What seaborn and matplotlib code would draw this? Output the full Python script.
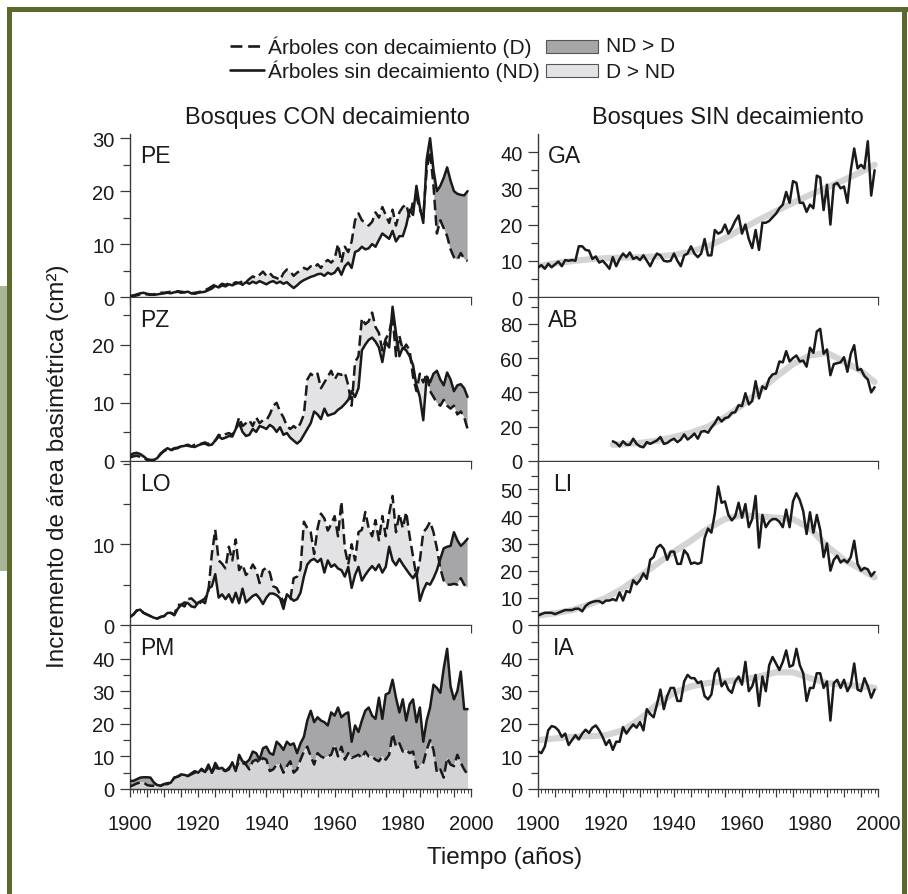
import numpy as np
import seaborn as sns
import matplotlib as mpl
mpl.use('Agg')
import matplotlib.pyplot as plt
from matplotlib.patches import Rectangle
from matplotlib.lines import Line2D
from matplotlib.ticker import FixedLocator, FuncFormatter

sns.set_style('ticks')
plt.rcParams['font.family'] = ['Liberation Sans', 'DejaVu Sans']

# ---- datos ----
YEARS = np.arange(1900, 2000)
AB_YEARS = np.arange(1922, 2000)
SMOOTH_YEARS = [1900, 1905, 1910, 1915, 1920, 1925, 1930, 1935, 1940, 1945, 1950,
                1955, 1960, 1965, 1970, 1975, 1980, 1985, 1990, 1995, 1999]
AB_SMOOTH_YEARS = [1922, 1925, 1930, 1935, 1940, 1945, 1950, 1955, 1960, 1965,
                   1970, 1975, 1980, 1985, 1990, 1995, 1999]

# Bosques CON decaimiento: D = arboles con decaimiento, ND = sin decaimiento
PE_D = [0.1, 0.2, 0.3, 0.5, 0.6, 0.5, 0.4, 0.5, 0.7, 0.8,
        0.8, 0.9, 1.0, 0.8, 1.1, 1.0, 0.9, 0.8, 0.7, 0.8,
        0.9, 1.1, 1.3, 1.6, 2.0, 2.4, 2.0, 2.5, 2.3, 2.6,
        2.4, 2.8, 2.6, 3.0, 2.8, 3.4, 3.9, 3.6, 4.2, 4.8,
        4.0, 4.5, 3.8, 3.6, 3.2, 4.5, 5.2, 4.8, 4.0, 4.6,
        5.0, 5.5, 5.2, 5.8, 5.5, 6.2, 5.5, 6.5, 7.0, 6.5,
        7.2, 10.0, 6.5, 9.5, 8.5, 10.5, 14.5, 15.8, 14.5, 14.0,
        13.5, 14.2, 16.0, 15.0, 17.0, 15.5, 14.0, 16.5, 13.5, 16.0,
        17.0, 17.5, 15.0, 18.0, 19.0, 16.5, 15.0, 24.0, 27.5, 21.0,
        12.0, 14.5, 13.0, 11.5, 9.0, 7.5, 7.0, 8.3, 7.2, 6.8]
PE_ND = [0.2, 0.3, 0.5, 0.7, 0.8, 0.6, 0.5, 0.4, 0.5, 0.6,
         0.7, 0.8, 0.7, 0.9, 1.0, 0.8, 0.9, 1.0, 0.7, 0.6,
         0.8, 0.9, 1.0, 1.3, 1.6, 2.1, 1.8, 2.2, 2.0, 2.4,
         2.2, 2.5, 2.7, 2.3, 2.8, 2.5, 2.9, 2.6, 3.0, 2.7,
         2.4, 2.8, 3.0, 2.6, 2.9, 2.5, 2.8, 2.2, 1.7, 2.2,
         2.8, 3.2, 3.5, 3.8, 4.0, 4.3, 4.4, 4.0, 4.6, 4.3,
         4.6, 5.5, 4.2, 5.8, 6.5, 5.5, 8.5, 8.8, 9.5, 9.0,
         9.2, 10.0, 9.5, 10.8, 12.0, 11.5, 11.0, 12.5, 10.5, 11.5,
         11.5, 13.5, 16.5, 15.5, 21.0, 17.0, 14.0, 26.0, 30.0, 24.0,
         20.0, 21.0, 22.5, 24.5, 22.0, 20.0, 19.5, 19.3, 19.2, 20.0]

PZ_D = [0.6, 0.8, 0.9, 0.7, 0.5, 0.2, 0.1, 0.1, 0.5, 1.2,
        1.7, 2.0, 1.8, 2.1, 2.2, 2.6, 2.8, 2.6, 2.5, 2.8,
        2.8, 3.0, 3.2, 2.9, 3.3, 3.5, 4.5, 4.2, 4.6, 4.8,
        4.5, 5.5, 7.5, 6.0, 6.5, 7.0, 6.0, 7.5, 6.5, 7.0,
        7.0, 8.0, 9.5, 10.0, 8.5, 7.5, 6.0, 5.5, 6.0, 5.5,
        6.5, 8.0, 14.0, 15.0, 14.5, 15.0, 12.5, 13.5, 14.5, 15.5,
        14.0, 15.0, 14.8, 15.2, 13.0, 9.5, 17.0, 18.0, 24.5, 23.5,
        24.0, 25.5, 23.0, 22.0, 19.0, 21.0, 22.0, 25.0, 18.0, 21.5,
        19.0, 20.0, 19.0, 14.5, 12.0, 15.0, 13.5, 15.0, 12.0, 11.0,
        10.0, 9.5, 10.5, 9.5, 9.0, 9.5, 8.0, 8.5, 7.5, 5.5]
PZ_ND = [1.0, 1.3, 1.4, 1.2, 0.8, 0.3, 0.2, 0.2, 0.5, 1.3,
         1.8, 2.2, 1.9, 2.2, 2.3, 2.5, 2.6, 2.8, 2.5, 2.4,
         2.7, 2.9, 3.0, 2.7, 2.8, 3.5, 4.2, 3.8, 4.0, 4.3,
         4.2, 5.5, 6.5, 5.0, 4.3, 4.5, 5.5, 5.0, 6.0, 5.8,
         5.5, 6.2, 5.8, 5.0, 5.8, 4.5, 4.8, 4.0, 3.5, 3.0,
         3.5, 4.5, 5.5, 6.5, 8.5, 8.0, 7.2, 9.0, 7.8, 8.0,
         8.2, 8.8, 9.2, 9.8, 10.5, 12.0, 11.0, 12.5, 19.0, 20.0,
         20.8, 21.2, 20.5, 19.5, 17.0, 20.5, 19.5, 26.5, 22.0, 18.0,
         19.5, 19.0, 18.0, 16.5, 13.0, 11.0, 7.0, 14.5, 13.5, 15.0,
         15.5, 14.0, 13.0, 15.2, 14.0, 12.0, 13.0, 13.2, 12.5, 11.0]

LO_D = [1.0, 1.3, 1.8, 1.9, 1.5, 1.3, 1.1, 0.9, 0.8, 1.0,
        1.1, 1.5, 1.5, 1.3, 2.5, 2.5, 2.3, 3.2, 3.3, 2.9,
        2.4, 3.0, 3.3, 4.2, 8.8, 11.8, 8.0, 7.6, 7.0, 9.7,
        8.0, 10.6, 6.8, 7.5, 6.2, 6.6, 7.5, 6.8, 5.2, 6.8,
        7.1, 6.5, 4.8, 4.6, 3.8, 2.8, 3.5, 3.2, 5.8, 6.0,
        7.0, 12.8, 12.0, 11.5, 8.8, 12.0, 13.8, 13.2, 11.7, 12.5,
        13.5, 11.0, 15.3, 9.5, 7.5, 10.0, 8.0, 11.5, 11.8, 14.0,
        12.0, 11.0, 13.0, 10.5, 13.5, 11.0, 13.8, 16.0, 11.5, 13.8,
        12.0, 14.0, 11.0, 8.5, 6.0, 8.0, 11.5, 12.0, 12.8, 11.5,
        9.5, 7.0, 5.5, 5.0, 5.0, 5.1, 5.0, 5.8, 5.0, 4.6]
LO_ND = [1.0, 1.3, 1.8, 1.9, 1.5, 1.3, 1.1, 0.9, 0.8, 1.0,
         1.1, 1.5, 1.5, 1.2, 2.0, 2.5, 2.8, 2.7, 2.3, 2.2,
         2.8, 3.0, 2.7, 4.5, 4.8, 6.3, 3.4, 3.8, 3.2, 3.8,
         2.8, 4.0, 2.7, 4.5, 2.8, 3.2, 3.6, 3.8, 3.3, 2.6,
         3.4, 3.9, 3.9, 3.7, 3.3, 2.0, 3.8, 3.4, 3.0, 3.2,
         4.0, 6.0, 7.5, 8.0, 8.2, 7.8, 8.2, 6.5, 8.0, 7.2,
         7.5, 7.0, 6.8, 6.0, 7.2, 4.6, 6.2, 7.2, 5.5, 6.2,
         6.8, 7.3, 6.8, 7.5, 6.5, 7.2, 9.7, 8.0, 7.4, 8.2,
         7.5, 6.9, 6.3, 5.8, 6.5, 3.0, 4.3, 5.2, 5.0, 5.8,
         6.8, 8.2, 9.5, 9.7, 9.8, 11.5, 10.5, 9.8, 10.2, 10.7]

PM_D = [0.8, 1.2, 1.7, 2.0, 2.0, 1.2, 1.0, 1.0, 0.8, 1.0,
        1.5, 1.8, 2.0, 3.5, 3.8, 4.3, 4.0, 4.0, 4.5, 5.0,
        5.5, 5.8, 5.3, 6.5, 5.0, 6.8, 6.0, 6.0, 5.5, 6.5,
        7.5, 6.0, 8.5, 8.0, 7.5, 6.0, 8.5, 9.0, 8.0, 9.5,
        9.0, 5.5, 6.0, 7.5, 7.5, 5.0, 7.0, 8.5, 5.0, 6.0,
        9.0, 11.5, 13.0, 10.0, 7.5, 11.0, 10.0, 9.5, 10.0, 10.5,
        13.5, 10.0, 13.0, 9.0, 11.0, 9.5, 10.0, 10.5, 9.5, 11.5,
        10.0, 10.0, 9.0, 8.5, 10.0, 9.0, 10.5, 17.0, 13.0, 14.0,
        11.5, 12.0, 11.0, 11.5, 6.5, 7.0, 8.0, 12.0, 15.0, 12.0,
        5.0, 6.0, 3.5, 9.5, 7.5, 7.0, 10.5, 8.0, 6.0, 4.5]
PM_ND = [2.5, 2.5, 3.0, 3.5, 3.6, 3.6, 3.5, 2.0, 1.2, 1.0,
         1.5, 1.5, 2.0, 3.5, 3.8, 4.5, 4.3, 4.0, 4.8, 5.5,
         5.0, 6.2, 5.2, 7.5, 5.0, 8.0, 6.2, 6.5, 5.5, 6.0,
         8.2, 5.5, 10.5, 8.5, 8.0, 9.0, 11.5, 11.0, 9.0, 12.5,
         13.0, 11.0, 10.5, 14.5, 13.5, 12.0, 14.5, 13.5, 14.0, 11.0,
         14.0, 16.0, 21.0, 24.0, 20.5, 22.0, 21.0, 20.5, 19.5, 23.5,
         22.5, 25.0, 22.0, 23.0, 23.5, 14.5, 19.5, 17.5, 21.0, 24.0,
         25.0, 22.5, 21.5, 28.0, 21.5, 29.0, 29.5, 33.5, 28.0, 23.5,
         27.5, 21.0, 26.0, 27.5, 20.5, 25.0, 14.5, 21.0, 25.0, 32.0,
         31.0, 29.5, 37.0, 43.0, 31.5, 27.5, 30.0, 36.0, 24.5, 24.5]

# Bosques SIN decaimiento: serie observada y tendencia suavizada
GA = [8.2, 8.8, 7.8, 9.2, 8.2, 9.0, 9.8, 8.5, 10.2, 10.0,
      10.2, 10.0, 14.0, 14.0, 13.0, 12.8, 10.5, 11.2, 9.5, 10.0,
      9.0, 7.8, 11.0, 8.5, 10.5, 12.0, 11.0, 12.3, 10.5, 11.0,
      10.2, 11.5, 10.0, 8.5, 10.5, 12.0, 11.5, 10.0, 9.8, 10.0,
      12.0, 10.0, 8.5, 11.5, 12.0, 14.0, 12.0, 11.0, 12.0, 16.0,
      11.5, 11.5, 18.5, 17.5, 18.0, 20.0, 17.5, 19.0, 21.0, 22.5,
      17.5, 20.0, 16.0, 13.5, 18.5, 13.0, 20.5, 20.5, 21.0, 22.0,
      23.0, 24.5, 25.5, 29.0, 26.0, 32.0, 31.5, 26.0, 26.0, 23.5,
      25.5, 24.5, 33.5, 33.0, 24.0, 31.0, 20.0, 31.0, 31.5, 30.0,
      30.5, 26.0, 35.0, 41.0, 35.5, 36.5, 35.5, 43.0, 28.0, 35.0]
GA_SMOOTH = [8.5, 9.3, 9.9, 10.4, 10.7, 10.9, 11.0, 11.2, 11.6, 12.5, 14.0,
             16.2, 18.8, 21.3, 23.7, 26.0, 28.2, 30.2, 32.3, 34.5, 36.5]

AB = [11.5, 10.5, 8.5, 11.5, 9.5, 9.5, 13.0, 10.0,
      8.5, 8.0, 11.0, 10.0, 11.0, 12.0, 14.0, 10.0, 10.5, 12.0,
      13.0, 11.0, 12.5, 15.5, 12.5, 14.0, 16.0, 13.0, 17.0, 17.5,
      16.5, 19.5, 22.0, 25.5, 23.0, 25.0, 25.5, 28.0, 28.5, 32.5,
      32.0, 39.5, 33.0, 35.0, 46.5, 36.5, 43.5, 42.0, 48.0, 50.5,
      51.0, 58.0, 57.5, 64.0, 58.0, 60.0, 61.5, 58.0, 58.5, 55.0,
      66.0, 63.0, 75.5, 77.0, 62.5, 65.0, 50.0, 56.5, 57.0, 57.5,
      60.5, 52.0, 62.5, 67.5, 53.0, 53.5, 49.5, 47.5, 40.0, 43.0]
AB_SMOOTH = [9.5, 9.8, 10.5, 11.8, 14.0, 16.5, 20.0, 25.5, 32.5, 40.5,
             49.0, 56.5, 61.5, 63.0, 58.0, 52.5, 46.0]

LI = [3.5, 4.0, 4.5, 4.5, 4.5, 4.0, 4.5, 5.0, 5.5, 5.5,
      5.5, 6.0, 6.0, 5.0, 7.0, 8.0, 8.5, 8.8, 8.8, 8.0,
      9.0, 9.0, 9.5, 9.0, 12.0, 9.0, 12.5, 12.0, 16.5, 15.0,
      16.5, 19.0, 17.0, 24.0, 25.0, 28.5, 29.5, 28.0, 24.0, 27.0,
      27.0, 22.5, 22.5, 27.5, 26.0, 22.5, 23.0, 22.5, 23.0, 32.0,
      35.5, 34.0, 41.0, 51.0, 45.0, 45.5, 40.5, 38.5, 40.0, 45.0,
      39.5, 44.5, 36.0, 39.0, 47.5, 28.5, 40.5, 36.0, 38.0, 39.0,
      39.0, 38.0, 36.0, 42.5, 36.0, 45.5, 48.5, 46.0, 42.0, 33.5,
      41.5, 34.0, 40.5, 35.0, 25.0, 30.0, 20.0, 24.0, 25.5, 23.0,
      24.0, 23.0, 25.0, 31.0, 22.5, 20.0, 21.0, 20.5, 18.0, 19.5]
LI_SMOOTH = [3.5, 4.3, 5.5, 7.5, 10.0, 13.5, 18.0, 22.5, 27.0, 31.0, 35.5,
             39.0, 40.5, 40.0, 39.5, 39.0, 35.5, 29.0, 24.0, 20.5, 17.5]

IA = [11.5, 11.0, 13.0, 18.0, 19.3, 19.0, 18.0, 16.0, 17.0, 13.5,
      15.0, 16.5, 15.2, 17.0, 18.2, 17.2, 18.8, 19.5, 18.0, 16.0,
      13.5, 15.0, 12.0, 14.5, 14.5, 19.0, 17.0, 18.5, 19.8, 18.8,
      20.5, 18.0, 24.5, 23.0, 22.0, 26.0, 30.5, 24.5, 28.5, 31.0,
      31.0, 27.0, 27.0, 33.0, 35.0, 34.0, 34.0, 32.5, 33.0, 28.5,
      27.5, 29.0, 35.5, 37.0, 31.5, 33.0, 30.5, 29.5, 33.0, 34.5,
      32.0, 39.0, 30.0, 31.5, 35.0, 25.5, 34.5, 30.0, 38.0, 40.5,
      38.5, 36.5, 39.0, 42.5, 37.5, 38.0, 43.0, 38.0, 35.5, 27.0,
      31.0, 31.0, 35.5, 35.5, 31.0, 33.0, 21.0, 32.5, 33.5, 31.0,
      33.5, 30.0, 32.0, 38.5, 30.5, 30.0, 34.0, 31.5, 28.0, 30.5]
IA_SMOOTH = [15.0, 15.5, 16.0, 16.2, 16.5, 18.0, 21.5, 26.0, 29.5, 31.5, 32.5,
             33.0, 33.5, 34.5, 35.8, 35.8, 34.0, 32.5, 32.0, 31.5, 31.0]

# ---- estilo ----
W, H = 908, 895
INK = '#1a1a1a'
SPINE = '#3a3a3a'
LIGHT = '#e3e3e5'
LIGHT_PM = '#d4d4d6'
DARK = '#a6a6a9'
TREND = '#d4d4d4'
DASH = (0, (4.2, 2.0))
LW = 1.8
TICK_FS = 14.5

fig = plt.figure(figsize=(W / 100, H / 100), dpi=100)


def px_axes(x0, x1, ytop, ybot):
    return fig.add_axes([x0 / W, 1 - ybot / H, (x1 - x0) / W, (ybot - ytop) / H])


def style_axes(ax, ytop, majors, minor_step, bottom_row):
    ax.set_xlim(1900, 2000)
    ax.set_ylim(0, ytop)
    for s in ['top', 'right']:
        ax.spines[s].set_visible(False)
    for s in ['left', 'bottom']:
        ax.spines[s].set_color(SPINE)
        ax.spines[s].set_linewidth(1.0)
    ax.xaxis.set_major_locator(FixedLocator(np.arange(1900, 2001, 5)))
    ax.xaxis.set_minor_locator(FixedLocator(np.arange(1900, 2001, 1)))
    if bottom_row:
        ax.xaxis.set_major_formatter(FuncFormatter(lambda v, p: '%d' % v if v % 20 == 0 else ''))
    else:
        ax.xaxis.set_major_formatter(FuncFormatter(lambda v, p: ''))
    ax.yaxis.set_major_locator(FixedLocator(majors))
    minors = [m for m in np.arange(minor_step, ytop, minor_step) if m not in majors]
    ax.yaxis.set_minor_locator(FixedLocator(minors))
    ax.tick_params(axis='x', which='major', length=6, width=0.9, color=SPINE,
                   labelsize=TICK_FS, pad=12, labelcolor=INK)
    ax.tick_params(axis='x', which='minor', length=3, width=0.7, color=SPINE)
    ax.tick_params(axis='y', which='major', length=7, width=0.9, color=SPINE,
                   labelsize=TICK_FS, pad=4, labelcolor=INK)
    ax.tick_params(axis='y', which='minor', length=5, width=0.9, color=SPINE)
    ax.set_xlabel('')
    ax.set_ylabel('')


ROW_TOPS = [135, 299, 463, 627]
ROW_H = 163

left_panels = [
    ('PE', PE_D, PE_ND, 30.8, [0, 10, 20, 30], 5),
    ('PZ', PZ_D, PZ_ND, 28.0, [0, 10, 20], 5),
    ('LO', LO_D, LO_ND, 20.2, [0, 10], 5),
    ('PM', PM_D, PM_ND, 50.0, [0, 10, 20, 30, 40], 5),
]
right_panels = [
    ('GA', YEARS, GA, SMOOTH_YEARS, GA_SMOOTH, 45.0, [0, 10, 20, 30, 40], 5),
    ('AB', AB_YEARS, AB, AB_SMOOTH_YEARS, AB_SMOOTH, 95.0, [0, 20, 40, 60, 80], 10),
    ('LI', YEARS, LI, SMOOTH_YEARS, LI_SMOOTH, 60.0, [0, 10, 20, 30, 40, 50], 5),
    ('IA', YEARS, IA, SMOOTH_YEARS, IA_SMOOTH, 50.0, [0, 10, 20, 30, 40], 5),
]

for i, (name, d, nd, ytop, majors, mstep) in enumerate(left_panels):
    ax = px_axes(130, 471, ROW_TOPS[i], ROW_TOPS[i] + ROW_H)
    d = np.array(d)
    nd = np.array(nd)
    if name == 'PM':
        ax.fill_between(YEARS, 0, d, color=LIGHT_PM, lw=0, zorder=1)
        ax.fill_between(YEARS, d, nd, where=d >= nd, interpolate=True,
                        color=LIGHT_PM, lw=0, zorder=1)
    else:
        ax.fill_between(YEARS, d, nd, where=d >= nd, interpolate=True,
                        color=LIGHT, lw=0, zorder=1)
    ax.fill_between(YEARS, d, nd, where=nd >= d, interpolate=True,
                    color=DARK, lw=0, zorder=1)
    sns.lineplot(x=YEARS, y=d, ax=ax, color=INK, lw=LW, linestyle=DASH, zorder=3)
    sns.lineplot(x=YEARS, y=nd, ax=ax, color=INK, lw=LW, zorder=4)
    style_axes(ax, ytop, majors, mstep, i == 3)
    ax.text(0.03, 0.94, name, transform=ax.transAxes, ha='left', va='top',
            fontsize=16.5, color=INK)

for i, (name, yrs, vals, syrs, svals, ytop, majors, mstep) in enumerate(right_panels):
    ax = px_axes(538, 878, ROW_TOPS[i], ROW_TOPS[i] + ROW_H)
    sns.lineplot(x=syrs, y=svals, ax=ax, color=TREND, lw=4.5, zorder=2)
    sns.lineplot(x=yrs, y=vals, ax=ax, color=INK, lw=LW, zorder=3)
    style_axes(ax, ytop, majors, mstep, i == 3)
    xoff = 0.045 if name in ('LI', 'IA') else 0.03
    ax.text(xoff, 0.94, name, transform=ax.transAxes, ha='left', va='top',
            fontsize=16.5, color=INK)

# titulos de columna y ejes
fig.text(327 / W, 1 - 118 / H, 'Bosques CON decaimiento', ha='center', va='center',
         fontsize=17, color=INK)
fig.text(728 / W, 1 - 118 / H, 'Bosques SIN decaimiento', ha='center', va='center',
         fontsize=17, color=INK)
fig.text(505 / W, 1 - 858 / H, 'Tiempo (años)', ha='center', va='center',
         fontsize=17.5, color=INK)
fig.text(58 / W, 1 - 466 / H, 'Incremento de área basimétrica (cm²)', ha='center',
         va='center', rotation=90, fontsize=17.5, color=INK)

# leyenda manual
def fx(x):
    return x / W


def fy(y):
    return 1 - y / H


fig.add_artist(Line2D([fx(230), fx(262)], [fy(47), fy(47)], color=INK, lw=1.9,
                      linestyle=(0, (4.5, 2.2))))
fig.add_artist(Line2D([fx(230), fx(264)], [fy(71), fy(71)], color=INK, lw=1.9))
fig.text(fx(268), fy(47), 'Árboles con decaimiento (D)', ha='left', va='center',
         fontsize=15, color=INK)
fig.text(fx(268), fy(71), 'Árboles sin decaimiento (ND)', ha='left', va='center',
         fontsize=15, color=INK)
fig.add_artist(Rectangle((fx(546), fy(54)), fx(52), 13 / H, facecolor=DARK,
                         edgecolor='#555555', lw=0.8, transform=fig.transFigure))
fig.add_artist(Rectangle((fx(546), fy(78)), fx(52), 13 / H, facecolor=LIGHT,
                         edgecolor='#555555', lw=0.8, transform=fig.transFigure))
fig.text(fx(606), fy(47), 'ND > D', ha='left', va='center', fontsize=15, color=INK)
fig.text(fx(606), fy(72), 'D > ND', ha='left', va='center', fontsize=15, color=INK)

# marco
GREEN = '#5a6a2c'
fig.add_artist(Rectangle((0, fy(572)), fx(7), 285 / H, facecolor='#a8b596',
                         edgecolor='none', transform=fig.transFigure))
fig.add_artist(Rectangle((fx(7), 0), fx(5), fy(8), facecolor=GREEN,
                         edgecolor='none', transform=fig.transFigure))
fig.add_artist(Rectangle((fx(7), fy(13)), 1 - fx(7), 5 / H, facecolor=GREEN,
                         edgecolor='none', transform=fig.transFigure))
fig.add_artist(Rectangle((fx(902), 0), fx(5), fy(8), facecolor=GREEN,
                         edgecolor='none', transform=fig.transFigure))

fig.savefig('out.png', dpi=100)
